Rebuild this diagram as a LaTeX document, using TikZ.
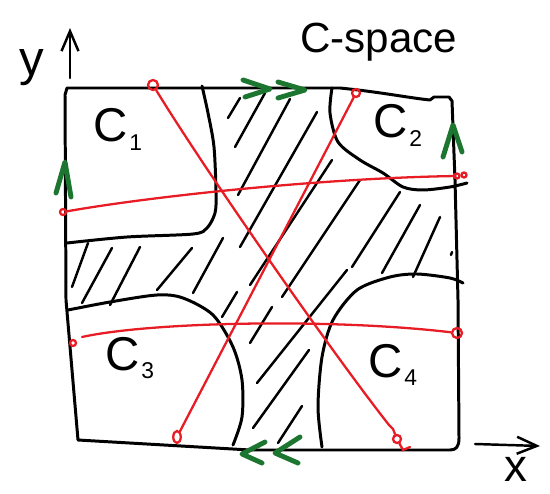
\documentclass[tikz,border=0pt]{standalone}
\usepackage{fontspec}
\setmainfont{Liberation Sans}
\usetikzlibrary{arrows.meta,shapes.geometric}
\definecolor{routered}{RGB}{232,28,36}
\definecolor{wrapgreen}{RGB}{28,118,48}
\newcommand{\obst}[1]{C\kern1pt\raisebox{-5pt}{\fontsize{13}{13}\selectfont #1}}
\tikzset{
  sqframe/.style={draw=black, line width=1.7pt, line cap=round, line join=round},
  obst/.style={draw=black, line width=1.7pt, line cap=round},
  hatch/.style={draw=black, line width=1.4pt, line cap=round},
  route/.style={draw=routered, line width=1.3pt, line cap=round},
  ring/.style={circle, draw=routered, line width=1.3pt, inner sep=0pt, minimum size=0.16cm},
  wrap/.style={draw=wrapgreen, line width=2.8pt, line cap=round, line join=round},
  axis/.style={draw=black, line width=1.4pt, line cap=round, -{Straight Barb[length=0.4cm, width=0.34cm, line width=1.4pt]}},
  lbl/.style={font=\fontsize{27}{27}\selectfont, inner sep=0pt, anchor=base west},
  big/.style={font=\fontsize{28}{28}\selectfont, inner sep=0pt}
}

\begin{document}
\begin{tikzpicture}[x=0.02cm, y=-0.02cm]
  \useasboundingbox (0,0) rectangle (550,493);

  \draw[sqframe] (67,88) -- (340,88) .. controls (380,92) and (410,98) .. (430,100) -- (434,97) -- (449,97) -- (452,101)
    -- (455,180) -- (458,300) -- (459,438) .. controls (459,447) and (456,450) .. (450,450) -- (250,450) -- (78,440)
    -- (66,300) -- (65,95) -- cycle;

  \draw[obst] plot[smooth] coordinates {(202,86) (208,113) (214,147) (216,193) (215,213) (207,228) (193,234) (127,237) (67,243)};
  \draw[obst] plot[smooth] coordinates {(332,88) (330,113) (338,142) (360,160) (383,173) (403,187) (423,190) (450,187) (467,183)};
  \draw[obst] plot[smooth] coordinates {(68,310) (110,302) (157,295) (183,298) (213,315) (233,347) (242,380) (242,417) (233,445)};
  \draw[obst] plot[smooth] coordinates {(322,447) (318,407) (322,357) (333,320) (357,290) (390,277) (417,274) (450,278) (463,283)};

  \draw[hatch] (240,98) -- (228,118) (265,93) -- (235,147) (290,99) -- (238,195) (317,112) -- (240,247)
    (332,160) -- (250,285) (360,180) -- (282,297)
    (88,243) -- (72,287) (112,248) -- (82,303) (140,247) -- (110,305) (192,248) -- (157,290)
    (223,238) -- (193,293) (237,292) -- (222,317)
    (400,192) -- (352,267) (420,205) -- (382,273) (440,217) -- (413,277) (452,252) -- (451,255)
    (272,307) -- (250,343) (347,270) -- (257,383) (309,350) -- (253,428) (302,406) -- (278,443);

  \node[ring, minimum size=0.2cm] (a0) at (153,85) {};
  \node[ring] (a1) at (397,439) {};
  \node[ring] (b0) at (356,93) {};
  \node[ring, ellipse, minimum width=0.15cm, minimum height=0.24cm] (b1) at (177,437) {};
  \node[ring, minimum size=0.12cm] (c0) at (63,212) {};
  \node[ring, minimum size=0.1cm] (c1) at (457,176) {};
  \node[ring, minimum size=0.1cm] (c2) at (464,175) {};
  \node[ring, minimum size=0.12cm] (d0) at (73,343) {};
  \node[ring, minimum size=0.2cm] (d1) at (457,333) {};
  \coordinate (d2) at (82,337);

  \draw[route] (a0) .. controls (205,170) and (330,350) .. (389,425) -- (393,429) -- (a1);
  \draw[route] (a1) -- (403,450) -- (410,447);
  \draw[route] (b0) -- (b1);
  \draw[route] (c0) .. controls (160,195) and (330,178) .. (c1);
  \draw[route] (d2) .. controls (150,322) and (330,318) .. (d1);

  \draw[wrap] (243,80) -- (270,89) -- (245,97);
  \draw[wrap] (278,82) -- (305,90) -- (278,98);
  \draw[wrap] (265,442) -- (242,454) -- (262,463);
  \draw[wrap] (300,437) -- (275,453) -- (298,463);
  \draw[wrap] (56,193) -- (65,162) -- (71,197);
  \draw[wrap] (443,157) -- (453,125) -- (462,152);

  \node[lbl] (l1) at (93,142) {\obst{1}};
  \node[lbl] (l2) at (373,138) {\obst{2}};
  \node[lbl] (l3) at (105,370) {\obst{3}};
  \node[lbl] (l4) at (368,377) {\obst{4}};
  \node[font=\fontsize{24}{24}\selectfont, inner sep=0pt, anchor=base west] (title) at (300,53) {C-space};

  \coordinate (yfoot) at (70,78);
  \coordinate (ytip) at (70,28);
  \draw[axis] (yfoot) -- (ytip);
  \node[big] (ylab) at (32,68) {y};
  \coordinate (xfoot) at (475,444);
  \coordinate (xtip) at (540,446);
  \draw[axis] (xfoot) -- (xtip);
  \node[big, font=\fontsize{26}{26}\selectfont] (xlab) at (516,469) {x};
\end{tikzpicture}
\end{document}
